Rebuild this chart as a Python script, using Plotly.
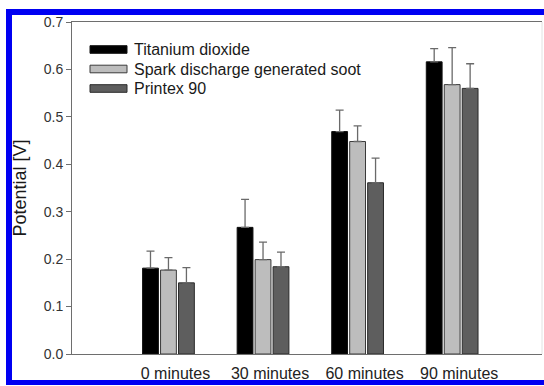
import plotly.graph_objects as go

# Measured potential per exposure time, with upper standard deviation
categories = ["0 minutes", "30 minutes", "60 minutes", "90 minutes"]
series_names = ["Titanium dioxide", "Spark discharge generated soot", "Printex 90"]
titanium_dioxide = [0.181, 0.267, 0.469, 0.616]
spark_soot = [0.177, 0.199, 0.448, 0.568]
printex_90 = [0.150, 0.184, 0.361, 0.560]
titanium_dioxide_err = [0.036, 0.059, 0.045, 0.028]
spark_soot_err = [0.026, 0.037, 0.033, 0.078]
printex_90_err = [0.032, 0.031, 0.052, 0.052]
y_ticks = [0.0, 0.1, 0.2, 0.3, 0.4, 0.5, 0.6, 0.7]

values = [titanium_dioxide, spark_soot, printex_90]
errors = [titanium_dioxide_err, spark_soot_err, printex_90_err]
fills = ["#000000", "#bdbdbd", "#5e5e5e"]
outlines = ["#111111", "#3a3a3a", "#2a2a2a"]

W, H = 544, 386
L, R, T, B = 72, 2, 22, 32
PW, PH = W - L - R, H - T - B


def px(x):
    return (x - L) / PW


def py(y):
    return (H - B - y) / PH


fig = go.Figure()
for name, v, e, fc, lc in zip(series_names, values, errors, fills, outlines):
    fig.add_trace(go.Bar(
        name=name, x=categories, y=v,
        marker=dict(color=fc, line=dict(color=lc, width=1)),
        error_y=dict(type="data", symmetric=False, array=e,
                     arrayminus=[0] * len(e), color="#6a6a6a",
                     thickness=1.3, width=4),
        showlegend=False,
    ))

shapes = []
annotations = []
# legend: wide flat swatches with labels
for i, (name, fc, lc) in enumerate(zip(series_names, fills, outlines)):
    yc = 49.5 + i * 19.5
    shapes.append(dict(type="rect", xref="paper", yref="paper",
                       x0=px(90), x1=px(127), y0=py(yc - 3.8), y1=py(yc + 3.8),
                       fillcolor=fc, line=dict(color=lc, width=1)))
    annotations.append(dict(xref="paper", yref="paper", x=px(132), y=py(yc),
                            text=name, showarrow=False, xanchor="left",
                            yanchor="middle",
                            font=dict(size=16, color="#1a1a1a")))

# faint right frame edge
shapes.append(dict(type="line", xref="paper", yref="paper", x0=1, x1=1,
                   y0=0, y1=1, line=dict(color="#e2e2e2", width=1)))

# blue border around the figure
blue = "#0000f2"
for x0, x1, y0, y1 in [(6, 12, 9, 385), (6, 560, 9, 15), (6, 560, 380, 385)]:
    shapes.append(dict(type="rect", xref="paper", yref="paper",
                       x0=px(x0), x1=px(x1), y0=py(y1), y1=py(y0),
                       fillcolor=blue, line=dict(width=0)))

fig.update_layout(
    width=W, height=H,
    margin=dict(l=L, r=R, t=T, b=B),
    paper_bgcolor="white", plot_bgcolor="white",
    barmode="group", bargap=0.43, bargroupgap=0.12,
    font=dict(family="Liberation Sans, Arial, sans-serif", color="#222222"),
    shapes=shapes, annotations=annotations,
    xaxis=dict(
        type="category", range=[-1.02, 3.95],
        showline=True, linecolor="#6e6e6e", linewidth=1, mirror=True,
        ticks="", showgrid=False, zeroline=False,
        tickfont=dict(size=16, color="#222222"),
        ticklabelshift=7, ticklabelstandoff=5,
    ),
    yaxis=dict(
        range=[0, 0.7], tickvals=y_ticks, tickformat=".1f",
        showline=True, linecolor="#6e6e6e", linewidth=1,
        ticks="outside", ticklen=5, tickcolor="#6e6e6e",
        showgrid=False, zeroline=False,
        tickfont=dict(size=14, color="#333333"),
        title=dict(text="Potential [V]", font=dict(size=18, color="#1a1a1a"),
                   standoff=12),
    ),
)

fig.write_html("out.html")
